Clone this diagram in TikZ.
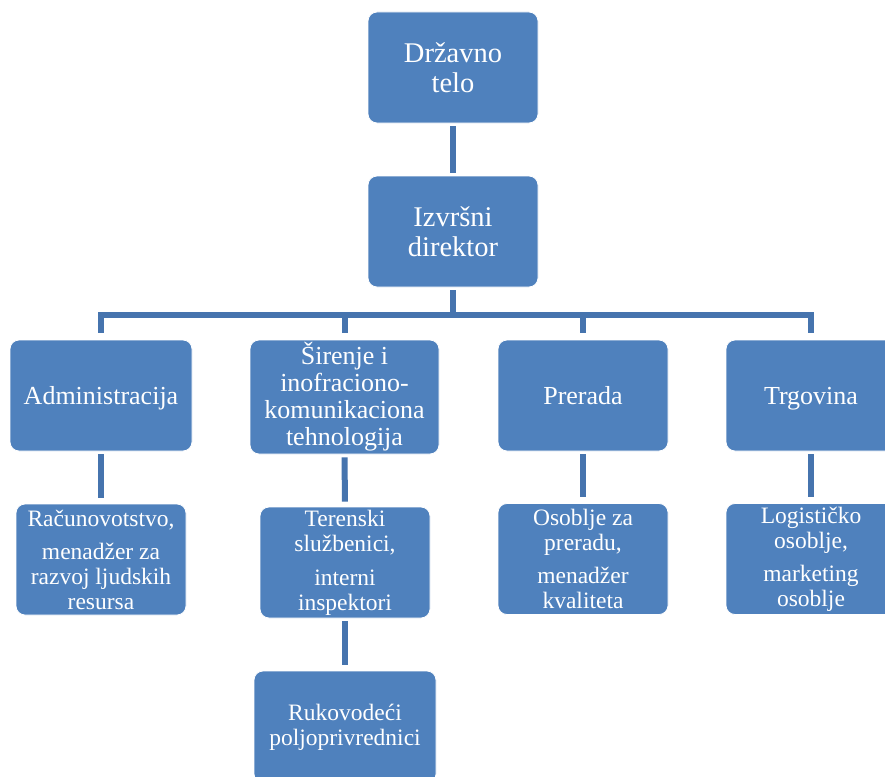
\documentclass[tikz,border=0pt]{standalone}
\usepackage{fontspec}
\setmainfont{Liberation Serif}
\definecolor{boxblue}{HTML}{4F81BD}
\definecolor{linkblue}{HTML}{4674AE}
\begin{document}
\begin{tikzpicture}[x=1pt,y=-1pt,
  orgbox/.style={rectangle, rounded corners=9pt, fill=boxblue, draw=white, line width=0.8pt,
    text=white, align=center, inner sep=0pt, minimum width=170pt, minimum height=111pt},
  topfont/.style={font=\fontsize{28.5}{30}\selectfont},
  midfont/.style={font=\fontsize{26}{27}\selectfont},
  lowfont/.style={font=\fontsize{23.5}{25}\selectfont},
  oneline/.style={text height=21pt, text depth=4pt},
  conn/.style={draw=linkblue, line width=6pt, line cap=butt}]
\clip (0,0) rectangle (885,776);
\fill[white] (0,0) rectangle (885,776);

\node[orgbox, topfont] (drz) at (453,67.5) {Državno\\telo};
\node[orgbox, topfont] (dir) at (453,231.5) {Izvršni\\direktor};

\node[orgbox, midfont, oneline, minimum width=182pt] (adm) at (101,395.5) {Administracija};
\node[orgbox, midfont, minimum width=189pt, minimum height=114pt] (sir) at (344.5,397) {Širenje i\\inofraciono-\\komunikaciona\\tehnologija};
\node[orgbox, midfont, oneline] (pre) at (583,395.5) {Prerada};
\node[orgbox, midfont, oneline] (trg) at (811,395.5) {Trgovina};

\node[orgbox, lowfont] (rac) at (101,559.5) {Računovotstvo,\\[8pt]menadžer za\\razvoj ljudskih\\resursa};
\node[orgbox, lowfont] (ter) at (345,562.5) {Terenski\\službenici,\\[9pt]interni\\inspektori};
\node[orgbox, lowfont] (oso) at (583,559) {Osoblje za\\preradu,\\[8pt]menadžer\\kvaliteta};
\node[orgbox, lowfont] (log) at (811,559) {Logističko\\osoblje,\\[8pt]marketing\\osoblje};
\node[orgbox, lowfont, minimum width=182pt, minimum height=112pt] (ruk) at (345,727) {Rukovodeći\\poljoprivrednici};

\coordinate (bus) at (453,315);

\draw[conn, shorten <=3pt, shorten >=3pt] (drz.south) -- (dir.north);
\draw[conn, shorten <=3pt] (dir.south) -- (dir.south |- bus);
\draw[conn, line join=miter, shorten <=7pt, shorten >=7pt] (adm.north) -- (adm.north |- bus) -- (trg.north |- bus) -- (trg.north);
\draw[conn, shorten <=7pt] (sir.north) -- (sir.north |- bus);
\draw[conn, shorten <=7pt] (pre.north) -- (pre.north |- bus);

\draw[conn, shorten <=3pt, shorten >=6pt] (adm.south) -- (rac.north);
\draw[conn, shorten <=3pt, shorten >=5pt] (sir.south) -- (ter.north);
\draw[conn, shorten <=3pt, shorten >=6pt] (pre.south) -- (oso.north);
\draw[conn, shorten <=3pt, shorten >=6pt] (trg.south) -- (log.north);
\draw[conn, shorten <=3pt, shorten >=6pt] (ter.south) -- (ruk.north);
\end{tikzpicture}
\end{document}
